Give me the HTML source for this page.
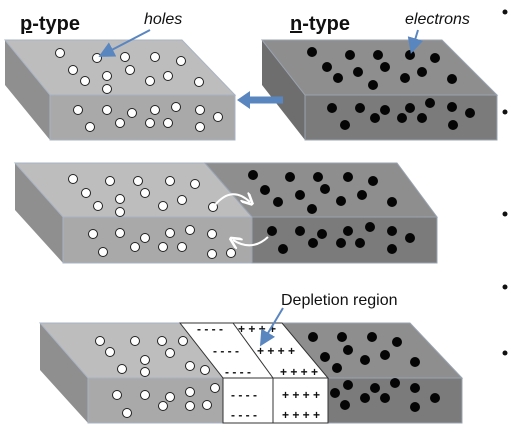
<!DOCTYPE html>
<html><head><meta charset="utf-8"><style>
html,body{margin:0;padding:0;background:#fff;width:510px;height:430px;overflow:hidden}
svg text{font-family:"Liberation Sans",sans-serif}
</style></head><body>
<svg id="s" width="510" height="430" viewBox="0 0 510 430">
<defs>
<marker id="ah" markerWidth="8" markerHeight="8" refX="6" refY="4" orient="auto"><path d="M0,0 L8,4 L0,8 z" fill="#5a86c0"/></marker>
<marker id="wh" markerWidth="6" markerHeight="6" refX="4" refY="3" orient="auto"><path d="M0,0 L6,3 L0,6" fill="none" stroke="#fff" stroke-width="1.3"/></marker>
</defs>
<!-- block 1 p-type -->
<g>
<polygon points="5,40 50,95 50,140 5,85" fill="#8f8f8f"/>
<polygon points="5,40 182,40 235,95 50,95" fill="#bdbdbd" stroke="#a9b4c4" stroke-width="1"/>
<rect x="50" y="95" width="185" height="45" fill="#a9a9a9" stroke="#a9b4c4" stroke-width="1"/>
</g>
<g>
<polygon points="262,40 305,95 305,140 262,85" fill="#6e6e6e"/>
<polygon points="262,40 442,40 497,95 305,95" fill="#8e8e8e" stroke="#9aa4b2" stroke-width="1"/>
<rect x="305" y="95" width="192" height="45" fill="#7b7b7b" stroke="#9aa4b2" stroke-width="1"/>
</g>
<path d="M283,100 L248,100" stroke="#5a86c0" stroke-width="7"/>
<polygon points="237,100 250,91 250,109" fill="#5a86c0"/>
<!-- block 2 -->
<g>
<polygon points="15,163 63,217 63,263 15,210" fill="#8f8f8f"/>
<polygon points="15,163 205,163 252,217 63,217" fill="#bdbdbd" stroke="#a9b4c4"/>
<polygon points="205,163 397,163 437,217 252,217" fill="#8e8e8e" stroke="#9aa4b2"/>
<rect x="63" y="217" width="189" height="46" fill="#a9a9a9" stroke="#a9b4c4"/>
<rect x="252" y="217" width="185" height="46" fill="#7b7b7b" stroke="#9aa4b2"/>
</g>
<!-- block 3 -->
<g>
<polygon points="40,323 88,377 88,423 40,370" fill="#8f8f8f"/>
<polygon points="40,323 180,323 223,378 88,378" fill="#bdbdbd" stroke="#a9b4c4"/>
<polygon points="282,323 410,323 462,378 328,378" fill="#8e8e8e" stroke="#9aa4b2"/>
<rect x="88" y="378" width="135" height="45" fill="#a9a9a9" stroke="#a9b4c4"/>
<rect x="328" y="378" width="134" height="45" fill="#7b7b7b" stroke="#9aa4b2"/>
<polygon points="180,323 282,323 328,378 223,378" fill="#fff" stroke="#333"/>
<line x1="233" y1="323" x2="273" y2="378" stroke="#333"/>
<rect x="223" y="378" width="105" height="45" fill="#fff" stroke="#333"/>
<line x1="273" y1="378" x2="273" y2="423" stroke="#333"/>
<g font-size="12" fill="#111" font-weight="bold">
<text x="197" y="333">- - - -</text><text x="238" y="333">+ + + +</text>
<text x="213" y="355">- - - -</text><text x="257" y="355">+ + + +</text>
<text x="225" y="376">- - - -</text><text x="280" y="376">+ + + +</text>
<text x="231" y="399">- - - -</text><text x="282" y="399">+ + + +</text>
<text x="231" y="419">- - - -</text><text x="282" y="419">+ + + +</text>
</g>
</g>
<g id="dots"></g>
<path d="M215,205 Q232,185 250,202" fill="none" stroke="#fff" stroke-width="2" marker-end="url(#wh)"/>
<path d="M268,237 Q252,252 233,240" fill="none" stroke="#fff" stroke-width="2" marker-end="url(#wh)"/>
<!-- labels -->
<text x="20" y="30" font-size="20" font-weight="bold" fill="#111"><tspan text-decoration="underline">p</tspan>-type</text>
<text x="144" y="24" font-size="16" font-style="italic" fill="#111">holes</text>
<line x1="150" y1="30" x2="102" y2="55" stroke="#5a86c0" stroke-width="2" marker-end="url(#ah)"/>
<text x="290" y="30" font-size="20" font-weight="bold" fill="#111"><tspan text-decoration="underline">n</tspan>-type</text>
<text x="405" y="24" font-size="16" font-style="italic" fill="#111">electrons</text>
<line x1="418" y1="30" x2="412" y2="50" stroke="#5a86c0" stroke-width="2" marker-end="url(#ah)"/>
<text x="281" y="305" font-size="16" fill="#111">Depletion region</text>
<line x1="283" y1="308" x2="262" y2="343" stroke="#5a86c0" stroke-width="2" marker-end="url(#ah)"/>
<g fill="#111">
<circle cx="505" cy="12" r="2.5"/><circle cx="505" cy="112" r="2.5"/><circle cx="505" cy="214" r="2.5"/><circle cx="505" cy="287" r="2.5"/><circle cx="505" cy="353" r="2.5"/>
</g>
</svg>
<script>
const holes = [[60,53],[97,58],[125,57],[155,57],[181,61],[73,70],[130,70],[107,76],[85,81],[150,81],[168,76],[199,82],[107,89],
[78,110],[107,110],[132,113],[155,110],[176,107],[200,110],[218,117],[90,127],[120,123],[150,123],[168,123],[200,127],
[73,179],[110,181],[138,181],[170,181],[195,184],[86,193],[145,193],[120,199],[182,200],[98,206],[120,212],[163,206],[213,207],
[93,234],[120,233],[145,238],[170,233],[190,230],[212,234],[103,252],[135,247],[163,247],[182,247],[212,254],[231,253],
[100,341],[135,341],[162,341],[183,341],[110,352],[170,353],[145,360],[122,369],[190,366],[145,372],[205,370],
[117,395],[145,395],[170,397],[190,392],[215,388],[163,406],[127,413],[190,406],[207,405]];
const electrons = [[312,52],[350,55],[378,55],[410,55],[435,58],[327,67],[358,72],[385,67],[422,72],[338,78],[405,78],[452,79],[373,85],
[332,108],[360,108],[385,110],[410,108],[430,103],[452,107],[470,113],[345,125],[375,118],[402,118],[422,118],[453,125],
[253,175],[290,177],[318,177],[348,177],[373,181],[265,190],[325,189],[300,195],[362,195],[278,202],[341,201],[392,202],[312,209],
[272,231],[300,231],[322,234],[348,231],[370,227],[392,231],[410,238],[283,249],[313,243],[341,243],[360,243],[392,249],
[313,337],[342,337],[372,337],[397,342],[348,350],[325,357],[385,355],[365,360],[415,362],[337,368],
[335,393],[348,385],[375,388],[395,383],[415,388],[365,398],[385,398],[415,407],[435,398],[345,405]];
const g = document.getElementById('dots');
const NS = 'http://www.w3.org/2000/svg';
holes.forEach(p => {
  const c = document.createElementNS(NS,'circle');
  c.setAttribute('cx',p[0]); c.setAttribute('cy',p[1]); c.setAttribute('r',4.5);
  c.setAttribute('fill','#fff'); c.setAttribute('stroke','#222'); c.setAttribute('stroke-width','1');
  
  
  g.appendChild(c);
});
electrons.forEach(p => {
  const c = document.createElementNS(NS,'circle');
  c.setAttribute('cx',p[0]); c.setAttribute('cy',p[1]); c.setAttribute('r',5);
  c.setAttribute('fill','#050505');
  
  
  g.appendChild(c);
});
</script>
</body></html>
